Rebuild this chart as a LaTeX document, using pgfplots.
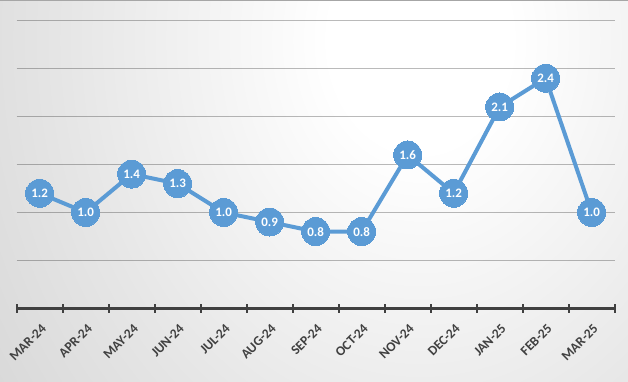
\documentclass[border=0pt]{standalone}
\usepackage{pgfplots}
\pgfplotsset{compat=1.18}
\usepackage{fontspec}
\setmainfont{Carlito}
\definecolor{sblue}{HTML}{5B9BD5}
\definecolor{axgray}{HTML}{404040}
\pgfdeclareradialshading{bgshade}{\pgfpoint{0bp}{0bp}}{color(0bp)=(white);color(5bp)=(white);color(20bp)=(black!10);color(30bp)=(black!16);color(40bp)=(black!20);color(50bp)=(black!24)}
\begin{document}
\begin{tikzpicture}
\path[use as bounding box] (-16.7bp,-73.7bp) rectangle (611.3bp,308.3bp);
\begin{scope}
\clip (-16.7bp,-73.7bp) rectangle (611.3bp,308.3bp);
\shade[shading=bgshade] (-46.7bp,-281.7bp) rectangle (853.3bp,818.3bp);
\end{scope}
\draw[black!35, line width=1.5bp] (-16.7bp,307.6bp) -- (611.3bp,307.6bp);
\begin{axis}[
  at={(0,0)}, anchor=south west,
  scale only axis, width=598bp, height=287.6bp,
  xmin=-0.5, xmax=12.5, ymin=0, ymax=3,
  clip=false,
  axis x line=bottom, axis y line*=left,
  x axis line style={-, line width=2.5bp, draw=axgray},
  y axis line style={draw=none},
  xtick={0,...,12},
  xticklabels={MAR-24,APR-24,MAY-24,JUN-24,JUL-24,AUG-24,SEP-24,OCT-24,NOV-24,DEC-24,JAN-25,FEB-25,MAR-25},
  major tick length=0pt,
  major x tick style={draw=none},
  minor xtick={-0.5,0.5,...,12.5},
  minor tick length=9bp,
  tick align=center,
  minor x tick style={line width=2bp, draw=axgray},
  ytick={0.5,1,...,3},
  yticklabels={},
  major y tick style={draw=none},
  ymajorgrids,
  grid style={draw=black, draw opacity=0.27, line width=1.5bp},
  xticklabel style={xshift=6.5bp, yshift=-15.5bp, rotate=45, anchor=east, font=\fontsize{13.5}{15}\selectfont\bfseries, text=axgray},
]
\addplot[sblue, line width=4bp, mark=*, mark size=14bp,
  mark options={fill=sblue, draw=sblue, line width=0pt},
  nodes near coords={\pgfmathprintnumber[fixed,fixed zerofill,precision=1,assume math mode=true]{\pgfplotspointmeta}},
  nodes near coords style={anchor=center, text=white, font=\fontsize{13}{15}\selectfont\bfseries},
] coordinates {
(0,1.2) (1,1.0) (2,1.4) (3,1.3) (4,1.0) (5,0.9) (6,0.8) (7,0.8) (8,1.6) (9,1.2) (10,2.1) (11,2.4) (12,1.0)
};
\end{axis}
\end{tikzpicture}
\end{document}
